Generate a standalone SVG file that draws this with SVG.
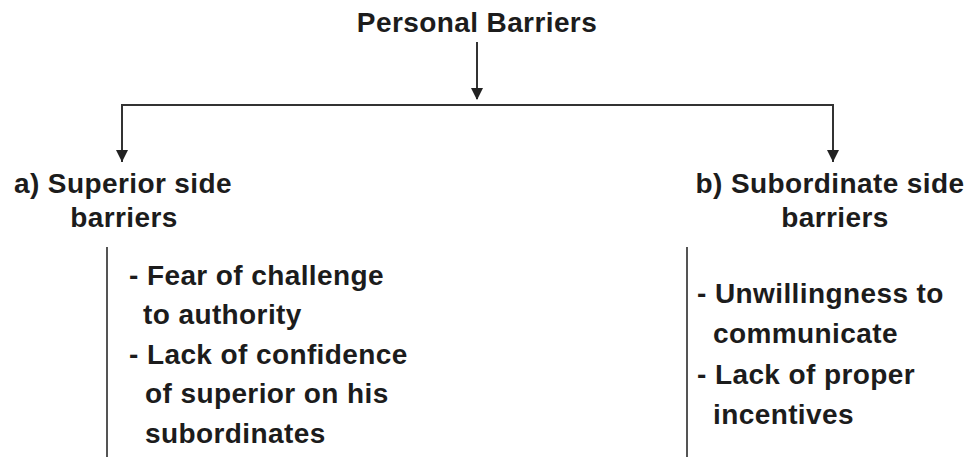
<svg xmlns="http://www.w3.org/2000/svg" width="969" height="457" viewBox="0 0 969 457">
  <style>
    .t { font-family: "Liberation Sans", Arial, sans-serif; font-weight: bold; font-size: 28px; letter-spacing: 0.4px; fill: #1c1c1c; }
    .c { text-anchor: middle; }
    .edge { fill: none; stroke: #333; stroke-width: 2; }
    .head { fill: #222; }
    .rule { fill: none; stroke: #555; stroke-width: 2; }
  </style>
  <rect width="969" height="457" fill="#fff"/>

  <g id="connectors">
    <line class="edge" x1="477" y1="42" x2="477" y2="99"/>
    <path class="head" d="M471,88 L483,88 L477,100 Z"/>
    <path class="edge" d="M122,162 V105 H833 V162"/>
    <path class="head" d="M116,150 L128,150 L122,162 Z"/>
    <path class="head" d="M827,150 L839,150 L833,162 Z"/>
  </g>

  <g id="root">
    <text class="t c" x="477" y="32">Personal Barriers</text>
  </g>

  <g id="superior">
    <text class="t c" x="123" y="193">a) Superior side</text>
    <text class="t c" x="124" y="227">barriers</text>
  </g>

  <g id="subordinate">
    <text class="t c" x="830" y="193">b) Subordinate side</text>
    <text class="t c" x="835" y="227">barriers</text>
  </g>

  <g id="superior-list">
    <line class="rule" x1="107" y1="247" x2="107" y2="457"/>
    <text class="t" x="129" y="285">- Fear of challenge</text>
    <text class="t" x="143" y="324">to authority</text>
    <text class="t" x="129" y="364">- Lack of confidence</text>
    <text class="t" x="145" y="403">of superior on his</text>
    <text class="t" x="145" y="443">subordinates</text>
  </g>

  <g id="subordinate-list">
    <line class="rule" x1="687" y1="247" x2="687" y2="457"/>
    <text class="t" x="697" y="303">- Unwillingness to</text>
    <text class="t" x="713" y="343">communicate</text>
    <text class="t" x="697" y="384">- Lack of proper</text>
    <text class="t" x="713" y="424">incentives</text>
  </g>
</svg>
